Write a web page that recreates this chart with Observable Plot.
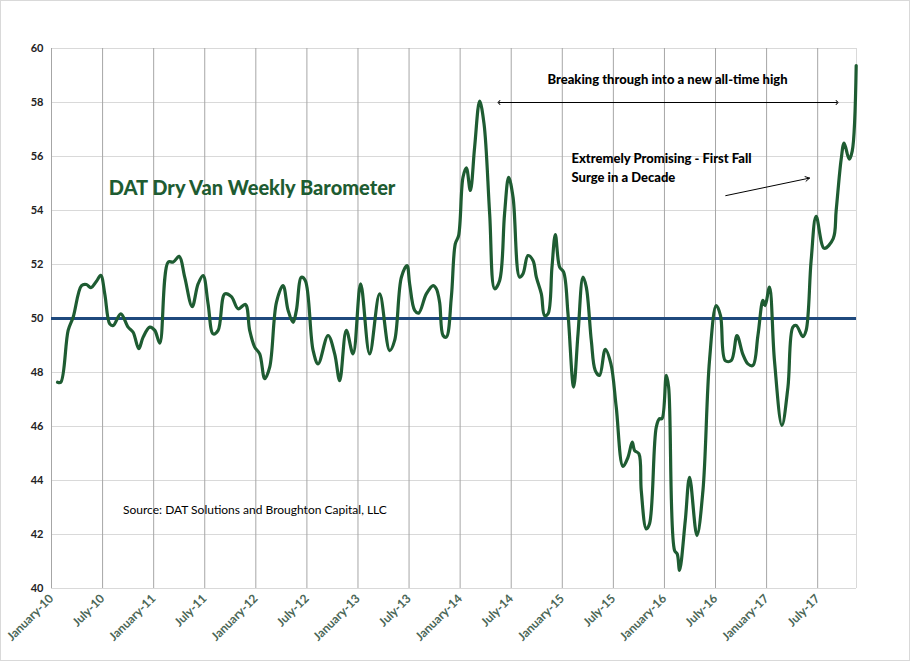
<!DOCTYPE html>
<html><head><meta charset="utf-8">
<script src="https://cdn.jsdelivr.net/npm/d3@7"></script>
<script src="https://cdn.jsdelivr.net/npm/@observablehq/plot@0.6"></script>
<style>
body{margin:0;background:#fff;}
#c{width:908px;height:659px;border:1px solid #d9d9d9;position:relative;overflow:hidden;}
</style></head><body><div id="c"></div>
<script>
const years=[2010.059,2010.091,2010.163,2010.212,2010.294,2010.342,2010.385,2010.440,2010.482,2010.522,2010.570,2010.604,2010.678,2010.750,2010.799,2010.854,2010.897,2010.962,2011.011,2011.060,2011.142,2011.191,2011.250,2011.304,2011.377,2011.435,2011.484,2011.533,2011.582,2011.631,2011.696,2011.761,2011.827,2011.898,2011.940,2011.989,2012.038,2012.087,2012.136,2012.202,2012.267,2012.316,2012.365,2012.397,2012.446,2012.485,2012.561,2012.610,2012.707,2012.772,2012.821,2012.886,2012.952,2013.026,2013.114,2013.212,2013.310,2013.359,2013.425,2013.480,2013.506,2013.555,2013.594,2013.669,2013.735,2013.767,2013.799,2013.833,2013.865,2013.914,2013.953,2013.985,2014.028,2014.061,2014.100,2014.142,2014.191,2014.234,2014.289,2014.338,2014.387,2014.435,2014.475,2014.518,2014.582,2014.616,2014.664,2014.713,2014.746,2014.795,2014.827,2014.860,2014.899,2014.932,2014.974,2015.013,2015.056,2015.111,2015.154,2015.203,2015.235,2015.284,2015.323,2015.365,2015.421,2015.476,2015.528,2015.594,2015.643,2015.685,2015.708,2015.750,2015.773,2015.822,2015.854,2015.920,2015.952,2015.976,2016.018,2016.041,2016.099,2016.125,2016.148,2016.204,2016.246,2016.318,2016.377,2016.441,2016.507,2016.549,2016.595,2016.654,2016.710,2016.768,2016.817,2016.866,2016.915,2016.964,2016.986,2017.028,2017.077,2017.150,2017.209,2017.257,2017.290,2017.355,2017.387,2017.436,2017.485,2017.564,2017.652,2017.681,2017.730,2017.759,2017.808,2017.838,2017.877];
const values=[47.64,47.64,49.56,50.05,51.22,51.26,51.14,51.38,51.6,50.9,49.8,49.74,50.17,49.68,49.49,48.88,49.31,49.68,49.56,49.09,52.09,52.09,52.3,51.53,50.44,51.28,51.59,50.54,49.43,49.56,50.91,50.81,50.36,50.52,49.56,48.94,48.69,47.77,48.2,50.6,51.22,50.3,49.86,50.3,51.53,51.4,48.81,48.32,49.37,48.69,47.7,49.56,48.69,51.28,48.69,50.91,48.81,49.19,51.53,51.96,51.28,50.3,50.2,50.91,51.22,51.1,50.6,49.37,49.31,50.79,52.77,53.07,55.23,55.58,54.74,56.35,58.05,57.21,53.88,51.1,51.41,53.88,55.23,54.49,51.53,51.66,52.33,52.15,51.53,50.91,50.11,50.17,51.9,53.11,51.9,51.72,50.17,47.46,49.43,51.53,51.16,49.19,48.07,47.89,48.86,48.32,46.72,44.52,44.86,45.42,45.11,44.99,43.63,42.21,42.4,45.98,46.29,46.29,47.89,47.46,41.41,41.28,40.67,42.52,44.12,41.96,43.63,48.44,50.48,50.11,48.44,48.44,49.37,48.67,48.32,48.26,49.37,50.67,50.48,51.16,48.44,46.04,47.46,49.68,49.74,49.33,49.56,52.15,53.78,52.6,52.96,54.0,55.9,56.5,55.9,56.2,59.37];
const tickYears=[2010,2010.5,2011,2011.5,2012,2012.5,2013,2013.5,2014,2014.5,2015,2015.5,2016,2016.5,2017,2017.5];
const tickLabels=["January-10","July-10","January-11","July-11","January-12","July-12","January-13","July-13","January-14","July-14","January-15","July-15","January-16","July-16","January-17","July-17"];
const yTicks=[40,42,44,46,48,50,52,54,56,58,60];
const baseline=50;
const title="DAT Dry Van Weekly Barometer";
const note1="Breaking through into a new all-time high";
const note2a="Extremely Promising - First Fall";
const note2b="Surge in a Decade";
const source="Source: DAT Solutions and Broughton Capital, LLC";

const data=years.map((t,i)=>({t,v:values[i]}));
const lbl=new Map(tickYears.map((t,i)=>[t,tickLabels[i]]));
const F="Lato, 'Liberation Sans', sans-serif";
const chart=Plot.plot({
  width:908,height:659,marginLeft:50,marginRight:53,marginTop:47,marginBottom:72,
  style:{fontFamily:F,background:"#fff"},
  x:{domain:[2010,2017.88]},
  y:{domain:[40,60]},
  marks:[
    Plot.gridY(yTicks,{stroke:"#d9d9d9",strokeOpacity:1}),
    Plot.gridX(tickYears,{stroke:"#a6a6a6",strokeOpacity:1}),
    Plot.ruleY([40],{stroke:"#d9d9d9"}),
    Plot.ruleX([2017.88],{stroke:"#d9d9d9"}),
    Plot.axisY(yTicks,{tickSize:0,tickPadding:8,label:null,fontSize:11,fill:"#222",fontWeight:"bold"}),
    Plot.axisX(tickYears,{tickSize:0,tickPadding:8,tickRotate:-45,label:null,fontSize:12,fill:"#4a6656",fontWeight:"bold",tickFormat:d=>lbl.get(d)}),
    Plot.ruleY([baseline],{stroke:"#1f497d",strokeWidth:3}),
    Plot.line(data,{x:"t",y:"v",stroke:"#1e5c32",strokeWidth:3.2,curve:"catmull-rom"}),
    Plot.text([title],{x:2010.56,y:54.8,text:d=>d,textAnchor:"start",fontSize:20,fontWeight:900,fill:"#1e5c32"}),
    Plot.text([note1],{x:2016.03,y:58.85,text:d=>d,fontSize:13,fontWeight:900,fill:"#000"}),
    Plot.link([{x1:2014.38,x2:2017.69,y:58.0}],{x1:"x1",x2:"x2",y1:"y",y2:"y",stroke:"#000",strokeWidth:1,markerStart:"arrow-reverse",markerEnd:"arrow"}),
    Plot.text([note2a],{x:2015.09,y:55.9,text:d=>d,textAnchor:"start",fontSize:13,fontWeight:900,fill:"#000"}),
    Plot.text([note2b],{x:2015.09,y:55.2,text:d=>d,textAnchor:"start",fontSize:13,fontWeight:900,fill:"#000"}),
    Plot.arrow([{x1:2016.6,y1:54.55,x2:2017.42,y2:55.2}],{x1:"x1",y1:"y1",x2:"x2",y2:"y2",stroke:"#000",strokeWidth:1,headLength:7,bend:0}),
    Plot.text([source],{x:2010.7,y:42.9,text:d=>d,textAnchor:"start",fontSize:12,fill:"#000"})
  ]
});
document.getElementById("c").appendChild(chart);
</script></body></html>
